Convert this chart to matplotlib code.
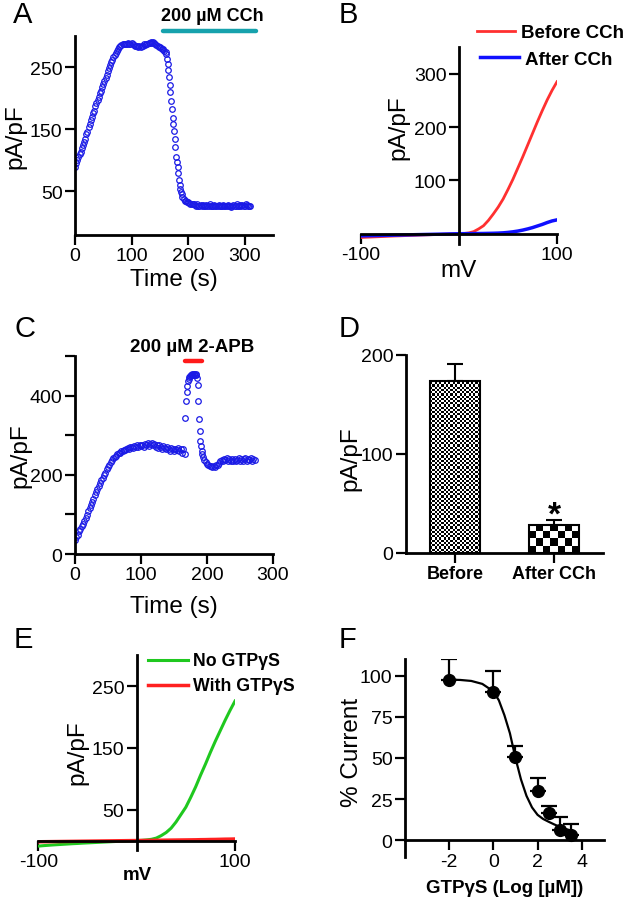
import numpy as np
import matplotlib
matplotlib.use('Agg')
import matplotlib.pyplot as plt
from matplotlib.colors import ListedColormap
from matplotlib.lines import Line2D

plt.rcParams['font.family'] = ['Liberation Sans', 'DejaVu Sans']
plt.rcParams['axes.unicode_minus'] = False

# ---- A: current density over time, CCh applied ----
a_time = np.r_[np.arange(0, 160, 2), np.arange(160, 191, 1.25), np.arange(192, 311, 2)]
a_current = [90, 96, 100, 106, 110, 114, 120, 124, 130, 135,
             142, 146, 153, 158, 165, 170, 176, 180, 187, 192,
             197, 202, 208, 212, 219, 223, 228, 233, 238, 244,
             249, 253, 258, 262, 267, 270, 273, 276, 279, 282,
             284, 286, 287, 288, 287, 288, 287, 289, 287, 288,
             289, 287, 286, 285, 284, 285, 283, 284, 283, 285,
             285, 287, 286, 288, 288, 289, 290, 291, 290, 291,
             289, 288, 286, 284, 283, 282, 281, 280, 279, 277,
             # drop after CCh
             275, 271, 264, 255, 246, 234, 222, 210, 196, 183,
             169, 158, 147, 135, 121, 106, 97, 89, 80, 68,
             60, 54, 49, 45, 41,
             # plateau
             38, 35, 34, 33, 32, 31, 30, 30, 29, 29,
             28, 27, 29, 27, 26, 28, 27, 28, 26, 27,
             28, 26, 27, 29, 27, 26, 27, 28, 27, 26,
             27, 28, 26, 27, 26, 28, 27, 26, 27, 28,
             26, 27, 25, 27, 28, 26, 27, 29, 27, 26,
             28, 27, 28, 26, 27, 29, 28, 27, 26, 27]
cch_period = [156, 320]

# ---- B: I-V curves before / after CCh ----
b_mv = np.arange(-100, 101, 5)
b_before = [-7, -6.6, -6.2, -5.8, -5.4, -5.0, -4.6, -4.2, -3.9, -3.5,
            -3.2, -2.9, -2.5, -2.2, -1.9, -1.5, -1.2, -0.9, -0.6, -0.3,
            0, 0.5, 1.5, 4, 9, 15, 25, 37, 50, 65,
            83, 102, 123, 144, 166, 188, 210, 231, 251, 269, 285]
b_after = [-4, -3.8, -3.6, -3.4, -3.2, -3, -2.8, -2.6, -2.4, -2.2,
           -2, -1.8, -1.6, -1.4, -1.2, -1, -0.8, -0.6, -0.4, -0.2,
           0, 0.1, 0.2, 0.3, 0.4, 0.5, 0.7, 0.9, 1.2, 1.7,
           2.5, 3.6, 5, 6.8, 9, 11.5, 14.5, 17.5, 21, 24, 26]

# ---- C: current density over time, 2-APB applied ----
c_time = np.r_[np.arange(0, 166, 2), np.arange(166, 195, 1), np.arange(196, 273, 2)]
c_current = [36, 42, 48, 57, 64, 70, 76, 84, 92, 99,
             108, 116, 124, 132, 140, 149, 157, 164, 172, 180,
             186, 192, 199, 205, 214, 220, 226, 233, 238, 242,
             245, 248, 252, 255, 256, 259, 260, 263, 262, 265,
             268, 266, 269, 271, 267, 272, 270, 274, 271, 275,
             273, 276, 270, 278, 274, 280, 272, 277, 281, 274,
             278, 270, 276, 268, 274, 271, 266, 272, 268, 264,
             270, 266, 261, 268, 264, 259, 266, 262, 268, 260,
             264, 256, 266,
             # 2-APB spike
             252, 343, 387, 410, 425, 436, 442, 447, 450, 452,
             453, 452, 455, 453, 455, 454, 453, 455, 452, 445,
             427, 387, 341, 311, 286, 272, 260, 252, 244,
             # recovery
             238, 232, 228, 224, 222, 221, 220, 222, 219, 224,
             226, 230, 234, 238, 236, 240, 237, 242, 236, 240,
             234, 239, 236, 241, 235, 238, 242, 236, 240, 234,
             239, 242, 236, 240, 238, 242, 236, 240, 238]
apb_period = [167, 192]

# ---- D: mean current before / after CCh ----
d_groups = ['Before', 'After CCh']
d_mean = [174, 28.6]
d_sem = [17, 4.5]

# ---- E: I-V curves with / without GTPgS ----
e_mv = np.arange(-100, 101, 5)
e_no_gtp = [-9, -8.3, -7.7, -7.1, -6.6, -6.1, -5.6, -5.1, -4.7, -4.2,
            -3.8, -3.4, -3.0, -2.6, -2.2, -1.8, -1.4, -1.0, -0.7, -0.3,
            0, 0.3, 1, 2, 4, 8, 13, 20, 30, 42,
            54, 70, 87, 106, 124, 143, 161, 178, 195, 211, 226]
e_with_gtp = [-2.0, -1.9, -1.8, -1.7, -1.6, -1.5, -1.4, -1.3, -1.2, -1.1,
              -1.0, -0.9, -0.8, -0.7, -0.6, -0.5, -0.4, -0.3, -0.2, -0.1,
              0, 0.1, 0.2, 0.3, 0.4, 0.5, 0.6, 0.7, 0.8, 0.9,
              1.0, 1.1, 1.2, 1.4, 1.5, 1.7, 1.8, 2.0, 2.2, 2.3, 2.5]

# ---- F: dose response ----
f_logc = [-2, 0, 1, 2, 2.5, 3, 3.5]
f_pct = [97.6, 90.3, 50.4, 30, 16.6, 6.5, 3.4]
f_err = [12.4, 12.7, 6.6, 7.6, 4.4, 7.5, 6.5]
fit_x = [-2, -1.5, -1, -0.5, 0, 0.25, 0.5, 0.75, 1, 1.25, 1.5, 1.75,
         2, 2.25, 2.5, 2.75, 3, 3.25, 3.5]
fit_y = [97.6, 97.4, 96.8, 95, 90.5, 85, 76, 65, 50, 37, 27, 20,
         15.5, 13, 11.3, 9.7, 8.2, 7, 6]

W, H = 630, 903
fig = plt.figure(figsize=(W / 100, H / 100), dpi=100)


def fx(x):
    return x / W


def fy(y):
    return 1 - y / H


def px_axes(l, t, r, b):
    return fig.add_axes([l / W, 1 - b / H, (r - l) / W, (b - t) / H])


def style(ax):
    for s in ('top', 'right'):
        ax.spines[s].set_visible(False)
    for s in ('left', 'bottom'):
        ax.spines[s].set_linewidth(2)
    ax.tick_params(direction='out', length=7, width=1.6, labelsize=14, pad=2)


def label(x, y, s, rot=0, **kw):
    kw.setdefault('fontsize', 17.5)
    fig.text(fx(x), fy(y), s, rotation=rot, ha='center', va='center', **kw)


blue = '#1a1ae6'

# A
ax = px_axes(75, 37.3, 273, 235.7)
style(ax)
ax.plot(a_time, a_current, 'o', ms=4, mfc='none', mec=blue, mew=0.9)
ax.set_xlim(0, 350)
ax.set_ylim(-20, 300)
ax.set_xticks([0, 100, 200, 300])
ax.set_yticks([50, 150, 250])
ax.plot(cch_period, [1.027, 1.027], color='#17a2ad', lw=3.2,
        solid_capstyle='round', transform=ax.get_xaxis_transform(), clip_on=False)
label(15, 137, 'pA/pF', rot=90)
label(174, 280, 'Time (s)')
fig.text(fx(212), fy(21), '200 \u00b5M CCh', ha='center', va='baseline',
         fontsize=13, fontweight='bold')

# B
ax = px_axes(361, 48.1, 557, 245.4)
style(ax)
ax.spines['left'].set_position(('data', 0))
ax.spines['bottom'].set_position(('data', 0))
ax.plot(b_mv, b_before, color='#ff3030', lw=2)
ax.plot(b_mv, b_after, color='#1010ff', lw=2.5)
ax.set_xlim(-100, 100)
ax.set_ylim(-20, 350)
ax.set_xticks([-100, 100])
ax.set_yticks([100, 200, 300])
label(398, 128, 'pA/pF', rot=90)
label(459, 271, 'mV')
fig.add_artist(Line2D([fx(477), fx(515)], [fy(32), fy(32)], color='#ff3030', lw=2))
fig.add_artist(Line2D([fx(480), fx(519)], [fy(58), fy(58)], color='#1010ff', lw=2.5))
fig.text(fx(521), fy(38.3), 'Before CCh', ha='left', va='baseline',
         fontsize=13.5, fontweight='bold')
fig.text(fx(525), fy(65), 'After CCh', ha='left', va='baseline',
         fontsize=13.5, fontweight='bold')

# C
ax = px_axes(75, 357, 273, 555)
style(ax)
ax.plot(c_time, c_current, 'o', ms=4, mfc='none', mec=blue, mew=0.9)
ax.set_xlim(0, 300)
ax.set_ylim(0, 500)
ax.set_xticks([0, 100, 200, 300])
ax.set_yticks(range(0, 501, 100))
ax.set_yticklabels(['0', '', '200', '', '400', ''])
ax.plot(apb_period, [0.975, 0.975], color='#ff1a1a', lw=3.2,
        solid_capstyle='round', transform=ax.get_xaxis_transform(), clip_on=False)
label(20, 456, 'pA/pF', rot=90)
label(174, 607, 'Time (s)')
fig.text(fx(192.5), fy(351.7), '200 \u00b5M 2-APB', ha='center', va='baseline',
         fontsize=13.5, fontweight='bold')

# D
ax = px_axes(406, 356, 603, 554)
style(ax)
xpos = np.arange(len(d_groups))
ax.set_xlim(-0.495, 1.495)
ax.set_ylim(0, 200)
bars = ax.bar(xpos, d_mean, width=0.5, color='white', edgecolor='none', zorder=2)
ax.bar(xpos, d_mean, width=0.5, fill=False, edgecolor='black', linewidth=1.5, zorder=4)
ax.errorbar(xpos, d_mean, yerr=[np.zeros(len(d_mean)), d_sem], fmt='none',
            ecolor='black', elinewidth=1.5, capsize=6, capthick=1.5, zorder=1)
for bar, cell in zip(bars, (2.2, 7.1)):
    x0, y0, w, h = bar.get_x(), bar.get_y(), bar.get_width(), bar.get_height()
    (p0x, p0y), (p1x, p1y) = ax.transData.transform([(x0, y0), (x0 + w, y0 + h)])
    nx = max(1, int(round((p1x - p0x) / cell)))
    ny = max(1, int(round((p1y - p0y) / cell)))
    board = np.add.outer(np.arange(ny), np.arange(nx)) % 2
    im = ax.imshow(board, extent=(x0, x0 + w, y0, y0 + h), aspect='auto',
                   interpolation='nearest', cmap=ListedColormap(['white', 'black']),
                   zorder=3)
    im.set_clip_path(bar)
ax.set_xlim(-0.495, 1.495)
ax.set_ylim(0, 200)
ax.set_xticks(xpos)
ax.set_xticklabels(d_groups, fontsize=13, fontweight='bold')
ax.set_yticks([0, 100, 200])
ax.text(1, 30, '*', ha='center', va='baseline', fontsize=24, fontweight='bold')
label(350, 459, 'pA/pF', rot=90)

# E
ax = px_axes(38.3, 656.4, 235, 850.8)
style(ax)
ax.spines['left'].set_position(('data', 0))
ax.spines['bottom'].set_position(('data', 0))
ax.plot(e_mv, e_no_gtp, color='#1fc81f', lw=2.2)
ax.plot(e_mv, e_with_gtp, color='#ff2020', lw=2.5)
ax.set_xlim(-100, 100)
ax.set_ylim(-15, 300)
ax.set_xticks([-100, 100])
ax.set_yticks([50, 150, 250])
label(77, 753, 'pA/pF', rot=90)
label(137, 876, 'mV', fontsize=13.5, fontweight='bold')
fig.add_artist(Line2D([fx(148), fx(188)], [fy(661), fy(661)], color='#1fc81f', lw=2.2))
fig.add_artist(Line2D([fx(148), fx(188)], [fy(686), fy(686)], color='#ff2020', lw=2.5))
fig.text(fx(193), fy(666), 'No GTP\u03b3S', ha='left', va='baseline',
         fontsize=12.8, fontweight='bold')
fig.text(fx(193), fy(691.5), 'With GTP\u03b3S', ha='left', va='baseline',
         fontsize=12.8, fontweight='bold')

# F
ax = px_axes(405, 660.2, 603.8, 857.8)
style(ax)
ax.spines['bottom'].set_position(('data', 0))
ax.plot(fit_x, fit_y, color='black', lw=1.6, zorder=2)
ax.errorbar(f_logc, f_pct, yerr=[np.zeros(len(f_err)), f_err], fmt='none',
            ecolor='black', elinewidth=1.6, capsize=5.5, capthick=1.6, zorder=1)
ax.plot(f_logc, f_pct, 'o', color='black', ms=8.5, zorder=3)
ax.set_xlim(-4, 5)
ax.set_ylim(-10, 110)
ax.set_xticks([-2, 0, 2, 4])
ax.set_yticks([0, 25, 50, 75, 100])
label(352, 752, '% Current', rot=90)
label(505, 889, 'GTP\u03b3S (Log [\u00b5M])', fontsize=13.5, fontweight='bold')

# panel letters
for letter, x, y in [('A', 13, 23.3), ('B', 339, 23), ('C', 14, 337),
                     ('D', 339, 337), ('E', 14, 648), ('F', 339, 648)]:
    fig.text(fx(x), fy(y), letter, ha='left', va='baseline', fontsize=21)

fig.savefig('out.png', dpi=100)
